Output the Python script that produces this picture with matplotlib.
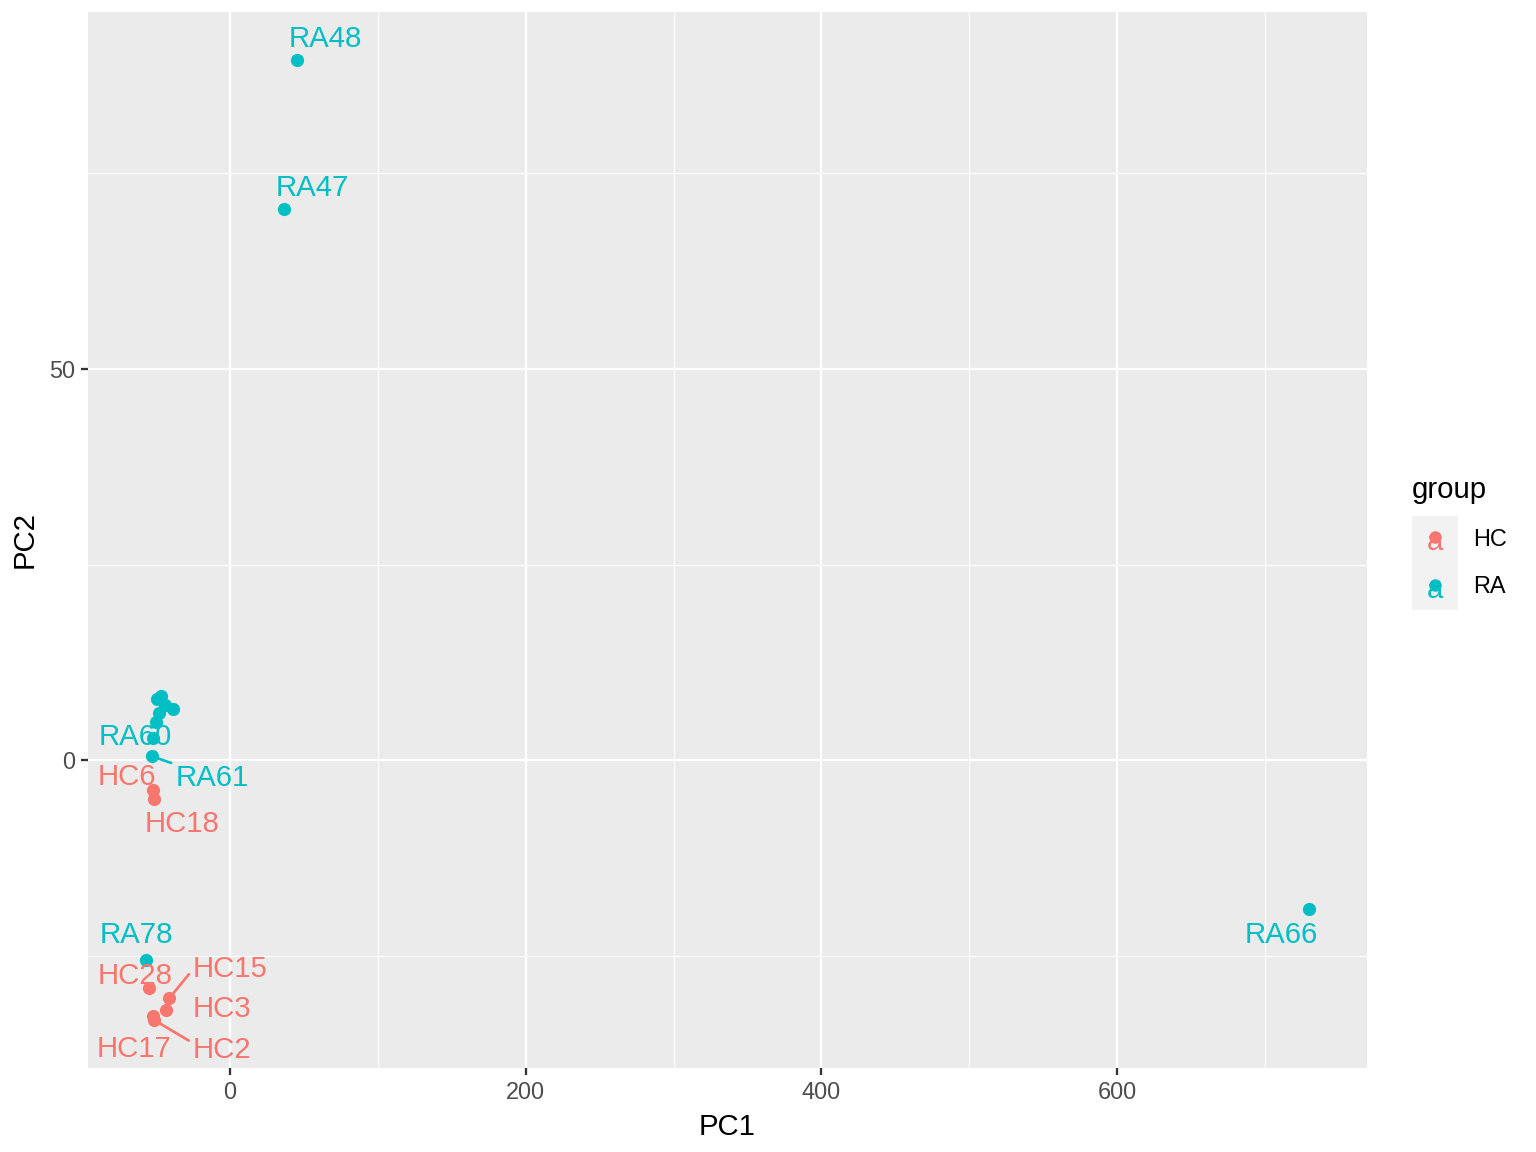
import matplotlib
matplotlib.use("Agg")
import matplotlib.pyplot as plt
from matplotlib.patches import Rectangle
from matplotlib.lines import Line2D
import numpy as np

plt.rcParams['font.family'] = ['Liberation Sans', 'DejaVu Sans']

# PCA scores
samples = ["RA48", "RA47", "RA_a", "RA_b", "RA_c", "RA_d", "RA_e", "RA_f", "RA60", "RA61",
           "HC6", "HC18", "RA78", "HC28", "HC15", "HC3", "HC17", "HC2", "RA66"]
groups = ["RA", "RA", "RA", "RA", "RA", "RA", "RA", "RA", "RA", "RA",
          "HC", "HC", "RA", "HC", "HC", "HC", "HC", "HC", "RA"]
pc1 = [45.3, 36.5, -46.6, -49.5, -43.9, -38.5, -48.0, -50.2, -52.0, -52.9,
       -52.0, -51.4, -56.8, -55.2, -41.0, -43.2, -52.2, -51.4, 729.7]
pc2 = [89.5, 70.5, 8.2, 7.8, 7.05, 6.5, 6.0, 4.9, 2.8, 0.5,
       -3.8, -5.0, -25.5, -29.1, -30.4, -31.9, -32.7, -33.2, -19.0]

# repelled label placement (offset in pixels from the point)
label_offsets = {
    "RA48": (28, 21), "RA47": (28, 21), "RA60": (-18, 1), "RA61": (60, -22),
    "HC6": (-26, 13), "HC18": (28, -25), "RA78": (-10, 25), "HC28": (-13, 12),
    "HC15": (61, 29), "HC3": (56, 1), "HC17": (-19, -33), "HC2": (68, -30),
    "RA66": (-28, -26),
}
# where the segment meets the label box
segment_anchor = {"RA61": (0.0, 1.0), "HC15": (0.0, 0.5), "HC2": (0.0, 0.75)}

colors = {"HC": "#F8766D", "RA": "#00BFC4"}
W, H = 1536, 1152
k = 192 / 150  # ggplot sizes rendered at 192 dpi

fig = plt.figure(figsize=(10.24, 7.68), dpi=150)
ax = fig.add_axes([88 / W, 1 - 1068 / H, (1367 - 88) / W, (1068 - 12) / H])
ax.set_facecolor("#EBEBEB")
for s in ax.spines.values():
    s.set_visible(False)

x = np.array(pc1)
y = np.array(pc2)
xr = x.max() - x.min()
yr = y.max() - y.min()
ax.set_xlim(x.min() - 0.05 * xr, x.max() + 0.05 * xr)
ax.set_ylim(y.min() - 0.05 * yr, y.max() + 0.05 * yr)

ax.set_xticks([0, 200, 400, 600])
ax.set_xticks([100, 300, 500, 700], minor=True)
ax.set_yticks([0, 50])
ax.set_yticks([-25, 25, 75], minor=True)
ax.grid(which="major", color="white", linewidth=1.1)
ax.grid(which="minor", color="white", linewidth=0.55)
ax.set_axisbelow(True)
ax.tick_params(which="major", length=2.75 * k, width=1.1, color="#333333",
               labelsize=8.8 * k, labelcolor="#4D4D4D", pad=2.2 * k)
ax.tick_params(which="minor", length=0)

for g in ["HC", "RA"]:
    idx = [i for i in range(len(samples)) if groups[i] == g]
    ax.scatter(x[idx], y[idx], s=40, color=colors[g], linewidths=0, zorder=3)

for i, name in enumerate(samples):
    if name not in label_offsets:
        continue
    c = colors[groups[i]]
    props = None
    if name in segment_anchor:
        props = dict(arrowstyle="-", color=c, lw=1.3, shrinkA=0, shrinkB=3,
                     relpos=segment_anchor[name])
    ax.annotate(name, (x[i], y[i]), xytext=label_offsets[name],
                textcoords="offset pixels", ha="center", va="center",
                fontsize=11 * k, color=c, arrowprops=props, zorder=4)

ax.set_xlabel("PC1", fontsize=11 * k, labelpad=4)
ax.set_ylabel("PC2", fontsize=11 * k, labelpad=5)

# legend drawn like ggplot's (point + "a" glyph key)
fig.text(1412 / W, 1 - 490 / H, "group", fontsize=11 * k, ha="left", va="center")
for j, g in enumerate(["HC", "RA"]):
    top = 516 + 47 * j
    fig.patches.append(Rectangle((1412 / W, 1 - (top + 47) / H), 46 / W, 47 / H,
                                 transform=fig.transFigure, facecolor="#F2F2F2",
                                 edgecolor="none", zorder=1))
    cy = 1 - (top + 23.5) / H
    fig.text(1435 / W, cy - 3 / H, "a", fontsize=11 * k, color=colors[g],
             ha="center", va="center", zorder=3)
    fig.lines.append(Line2D([1435 / W], [cy + 2 / H], marker="o", markersize=6,
                            markeredgewidth=0, color=colors[g],
                            transform=fig.transFigure, zorder=4))
    fig.text(1473 / W, cy, g, fontsize=8.8 * k, ha="left", va="center")

fig.savefig("out.png", dpi=150)
